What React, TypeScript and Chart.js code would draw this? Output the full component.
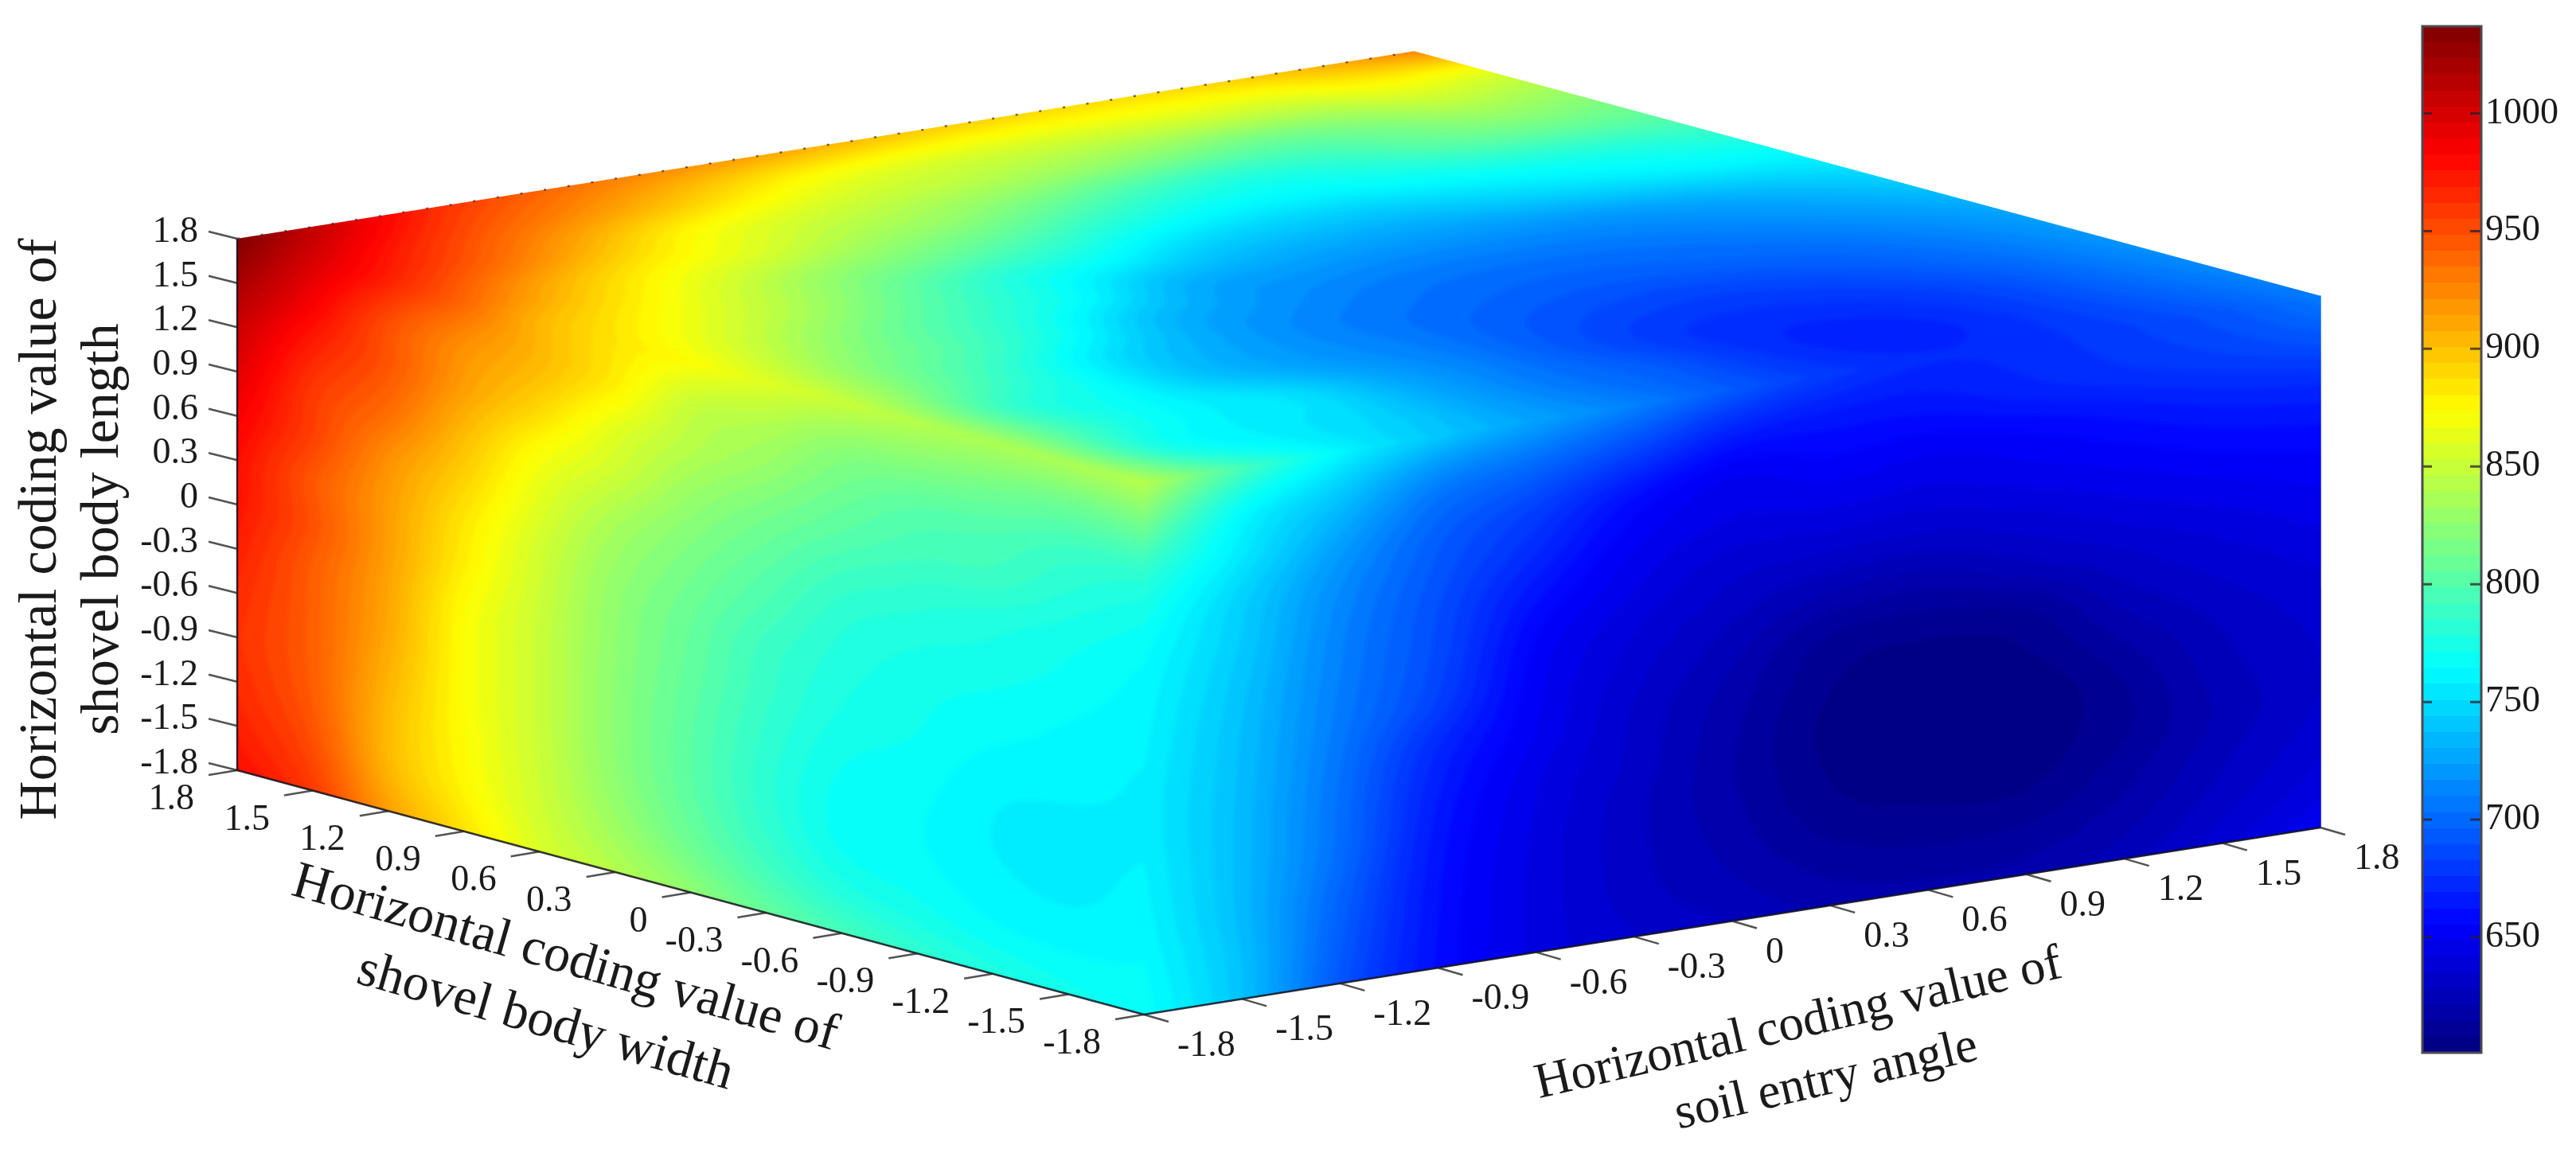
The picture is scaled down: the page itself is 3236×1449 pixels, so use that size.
import React, { useEffect, useRef } from "react";
import { Chart, registerables } from "chart.js";

Chart.register(...registerables);

// ---------- data ----------
const heightTicks = ["1.8", "1.5", "1.2", "0.9", "0.6", "0.3", "0", "-0.3", "-0.6", "-0.9", "-1.2", "-1.5", "-1.8"];
const widthTicks = ["1.8", "1.5", "1.2", "0.9", "0.6", "0.3", "0", "-0.3", "-0.6", "-0.9", "-1.2", "-1.5", "-1.8"];
const angleTicks = ["-1.8", "-1.5", "-1.2", "-0.9", "-0.6", "-0.3", "0", "0.3", "0.6", "0.9", "1.2", "1.5", "1.8"];

const colorbarRange = [601, 1037];
const colorbarTicks = [650, 700, 750, 800, 850, 900, 950, 1000];

// left face: rows = body length 1.8 .. -1.8, columns = body width 1.8 .. -1.8
const leftFaceValues = [
  [1037, 1000, 970, 940, 905, 885, 873, 860, 850, 842, 838, 838, 842],
  [1020, 985, 950, 922, 903, 880, 850, 840, 825, 820, 815, 810, 812],
  [1005, 970, 946, 915, 890, 862, 842, 828, 812, 802, 798, 790, 785],
  [995, 959, 936, 903, 872, 852, 830, 815, 802, 793, 790, 780, 772],
  [985, 955, 922, 893, 862, 838, 820, 805, 790, 783, 778, 772, 765],
  [978, 946, 916, 884, 855, 830, 813, 797, 782, 776, 773, 768, 762],
  [975, 948, 915, 880, 852, 826, 808, 790, 778, 772, 768, 764, 760],
  [970, 943, 912, 874, 850, 825, 806, 788, 775, 770, 764, 762, 758],
  [965, 942, 910, 873, 850, 824, 804, 785, 771, 767, 760, 758, 758],
  [962, 942, 906, 873, 850, 824, 803, 783, 768, 765, 759, 757, 760],
  [965, 944, 903, 874, 851, 826, 805, 785, 769, 766, 761, 759, 762],
  [970, 950, 905, 877, 853, 832, 812, 793, 778, 772, 766, 764, 765],
  [978, 958, 915, 886, 858, 842, 826, 808, 795, 785, 778, 772, 768],
];

// right face: rows = body length 1.8 .. -1.8, columns = soil entry angle -1.8 .. 1.8
const rightFaceValues = [
  [842, 795, 762, 741, 725, 711, 694, 680, 673, 675, 682, 692, 708],
  [812, 765, 740, 712, 700, 685, 668, 664, 664, 670, 676, 682, 690],
  [785, 755, 725, 698, 682, 662, 650, 654, 652, 656, 662, 668, 672],
  [772, 745, 716, 692, 672, 652, 644, 645, 643, 647, 652, 657, 660],
  [765, 742, 712, 688, 662, 646, 636, 634, 633, 637, 643, 648, 652],
  [762, 739, 710, 686, 655, 640, 630, 622, 620, 627, 634, 640, 646],
  [760, 737, 708, 682, 652, 636, 624, 611, 609, 612, 626, 634, 640],
  [758, 736, 705, 672, 650, 633, 620, 607, 603, 606, 618, 629, 636],
  [758, 735, 703, 667, 646, 632, 618, 605, 602, 602, 612, 626, 634],
  [760, 735, 702, 664, 644, 630, 618, 606, 603, 603, 611, 624, 634],
  [762, 735, 698, 662, 643, 630, 620, 609, 606, 606, 615, 627, 637],
  [765, 737, 695, 661, 643, 631, 623, 615, 612, 613, 620, 631, 642],
  [768, 738, 692, 660, 643, 634, 628, 621, 619, 620, 626, 637, 649],
];

// top face: rows = body width 1.8 .. -1.8, columns = soil entry angle -1.8 .. 1.8
const topFaceValues = [
  [1037, 1000, 965, 942, 926, 915, 905, 895, 890, 888, 892, 905, 925],
  [1000, 968, 938, 915, 893, 873, 862, 857, 855, 855, 855, 868, 862],
  [970, 940, 908, 878, 860, 848, 840, 830, 820, 812, 822, 838, 830],
  [940, 905, 877, 858, 838, 826, 808, 790, 780, 786, 803, 810, 808],
  [905, 880, 853, 828, 812, 795, 775, 762, 760, 766, 773, 778, 785],
  [885, 860, 835, 806, 780, 764, 745, 738, 737, 744, 752, 760, 763],
  [873, 840, 812, 788, 764, 733, 725, 720, 719, 720, 726, 736, 748],
  [860, 822, 798, 770, 736, 721, 711, 706, 705, 707, 713, 723, 735],
  [850, 808, 777, 745, 725, 711, 703, 697, 695, 698, 703, 713, 725],
  [842, 786, 766, 738, 722, 710, 696, 687, 683, 686, 695, 706, 720],
  [838, 785, 762, 752, 728, 710, 692, 678, 674, 677, 686, 701, 716],
  [838, 775, 758, 748, 727, 708, 695, 678, 669, 672, 683, 697, 712],
  [842, 795, 762, 741, 725, 711, 694, 680, 673, 675, 682, 692, 708],
];

const zTitle = ["Horizontal coding value of", "shovel body length"];
const widthTitle = ["Horizontal coding value of", "shovel body width"];
const angleTitle = ["Horizontal coding value of", "soil entry angle"];

// ---------- layout of the projected box ----------
const W = 3236;
const H = 1449;
const TL = [298, 300];
const FR = [1437, 607];
const RT = [2915, 372];
const BK = [TL[0] + RT[0] - FR[0], TL[1] + RT[1] - FR[1]];
const DEPTH = 668;
const N = 13;
const LEVELS = 64;
const SURFACE_LEVELS = 80;
const SERIF = '"Liberation Serif", "Times New Roman", serif';

function clamp01(a: number) {
  return a < 0 ? 0 : a > 1 ? 1 : a;
}
function clamp(a: number) {
  return a < 0 ? 0 : a > N - 1 ? N - 1 : a;
}
function jet(t: number): [number, number, number] {
  return [
    255 * clamp01(1.5 - Math.abs(4 * t - 3)),
    255 * clamp01(1.5 - Math.abs(4 * t - 2)),
    255 * clamp01(1.5 - Math.abs(4 * t - 1)),
  ];
}
function levelColor(v: number): [number, number, number] {
  const t = clamp01((v - colorbarRange[0]) / (colorbarRange[1] - colorbarRange[0]));
  const idx = Math.min(SURFACE_LEVELS - 1, Math.floor(t * SURFACE_LEVELS));
  return jet((idx + 0.5) / SURFACE_LEVELS);
}

function facePoints(values: number[][], o: number[], u: number[], v: number[]) {
  const pts: { x: number; y: number; v: number }[] = [];
  values.forEach((row, j) =>
    row.forEach((val, i) => {
      pts.push({
        x: o[0] + (u[0] * i) / (N - 1) + (v[0] * j) / (N - 1),
        y: o[1] + (u[1] * i) / (N - 1) + (v[1] * j) / (N - 1),
        v: val,
      });
    })
  );
  return pts;
}

function sampleFace(values: number[][], a: number, b: number) {
  const i = Math.min(N - 2, Math.max(0, Math.floor(a)));
  const j = Math.min(N - 2, Math.max(0, Math.floor(b)));
  const s = a - i;
  const t = b - j;
  const get = (jj: number, ii: number) => {
    let extra = 0;
    const rowIdx = Math.max(0, Math.min(N - 1, jj));
    if (ii < 0) {
      extra += values[rowIdx][0] - values[rowIdx][1];
      ii = 0;
    } else if (ii > N - 1) {
      extra += values[rowIdx][N - 1] - values[rowIdx][N - 2];
      ii = N - 1;
    }
    if (jj < 0) {
      extra += values[0][ii] - values[1][ii];
      jj = 0;
    } else if (jj > N - 1) {
      extra += values[N - 1][ii] - values[N - 2][ii];
      jj = N - 1;
    }
    return values[jj][ii] + extra;
  };
  const cr = (p0: number, p1: number, p2: number, p3: number, x: number) =>
    p1 + 0.5 * x * (p2 - p0 + x * (2 * p0 - 5 * p1 + 4 * p2 - p3 + x * (3 * (p1 - p2) + p3 - p0)));
  const col = [0, 1, 2, 3].map((k) =>
    cr(get(j - 1 + k, i - 1), get(j - 1 + k, i), get(j - 1 + k, i + 1), get(j - 1 + k, i + 2), s)
  );
  return cr(col[0], col[1], col[2], col[3], t);
}

const cubePlugin = {
  id: "cubeFaces",
  beforeDatasetsDraw(chart: any) {
    const ctx = chart.ctx as CanvasRenderingContext2D;
    chart.data.datasets.forEach((ds: any, f: number) => {
      const pts = chart.getDatasetMeta(f).data;
      const O = pts[0];
      const U = pts[N - 1];
      const V = pts[N * (N - 1)];
      const ux = (U.x - O.x) / (N - 1);
      const uy = (U.y - O.y) / (N - 1);
      const vx = (V.x - O.x) / (N - 1);
      const vy = (V.y - O.y) / (N - 1);
      const det = ux * vy - uy * vx;
      const cornersX = [O.x, U.x, V.x, U.x + V.x - O.x];
      const cornersY = [O.y, U.y, V.y, U.y + V.y - O.y];
      const x0 = Math.floor(Math.min(...cornersX)) - 10;
      const y0 = Math.floor(Math.min(...cornersY)) - 10;
      const w = Math.ceil(Math.max(...cornersX)) + 10 - x0;
      const h = Math.ceil(Math.max(...cornersY)) + 10 - y0;
      const off = document.createElement("canvas");
      off.width = w;
      off.height = h;
      const octx = off.getContext("2d") as CanvasRenderingContext2D;
      const img = octx.createImageData(w, h);
      const margin = 1.2;
      for (let py = 0; py < h; py++) {
        for (let px = 0; px < w; px++) {
          const dx = px + x0 + 0.5 - O.x;
          const dy = py + y0 + 0.5 - O.y;
          const a = (dx * vy - dy * vx) / det;
          const b = (dy * ux - dx * uy) / det;
          if (a < -margin || b < -margin || a > N - 1 + margin || b > N - 1 + margin) continue;
          const v = sampleFace(ds.grid, clamp(a), clamp(b));
          const c = levelColor(v);
          const k = (py * w + px) * 4;
          img.data[k] = c[0];
          img.data[k + 1] = c[1];
          img.data[k + 2] = c[2];
          img.data[k + 3] = 255;
        }
      }
      octx.putImageData(img, 0, 0);
      const cx = (cornersX[0] + cornersX[3]) / 2;
      const cy = (cornersY[0] + cornersY[3]) / 2;
      const grow = (x: number, y: number) => {
        const dx = x - cx;
        const dy = y - cy;
        const len = Math.hypot(dx, dy) || 1;
        return [x + (dx / len) * 0.8, y + (dy / len) * 0.8];
      };
      ctx.save();
      ctx.beginPath();
      const poly = [
        grow(O.x, O.y),
        grow(U.x, U.y),
        grow(U.x + V.x - O.x, U.y + V.y - O.y),
        grow(V.x, V.y),
      ];
      ctx.moveTo(poly[0][0], poly[0][1]);
      poly.slice(1).forEach((p) => ctx.lineTo(p[0], p[1]));
      ctx.closePath();
      ctx.clip();
      ctx.filter = "blur(3.5px)";
      ctx.drawImage(off, x0, y0);
      ctx.restore();
    });
  },
  afterDatasetsDraw(chart: any) {
    const ctx = chart.ctx as CanvasRenderingContext2D;
    const sx = (x: number) => chart.scales.x.getPixelForValue(x);
    const sy = (y: number) => chart.scales.y.getPixelForValue(y);
    const L = [TL[0], TL[1] + DEPTH];
    const Fb = [FR[0], FR[1] + DEPTH];
    const Rb = [RT[0], RT[1] + DEPTH];

    const line = (a: number[], b: number[]) => {
      ctx.beginPath();
      ctx.moveTo(sx(a[0]), sy(a[1]));
      ctx.lineTo(sx(b[0]), sy(b[1]));
      ctx.stroke();
    };

    // frame
    ctx.save();
    ctx.strokeStyle = "rgba(20,20,30,0.85)";
    ctx.lineWidth = 2.5;
    line(TL, L);
    line(L, Fb);
    line(Fb, Rb);
    ctx.setLineDash([3, 27]);
    ctx.strokeStyle = "rgba(50,50,50,0.7)";
    ctx.lineWidth = 2.5;
    line(TL, BK);
    ctx.restore();

    // ticks
    ctx.save();
    ctx.strokeStyle = "rgba(40,40,40,0.8)";
    ctx.lineWidth = 2.5;
    ctx.font = `46px ${SERIF}`;
    ctx.fillStyle = "#1a1a1a";
    ctx.textBaseline = "middle";
    heightTicks.forEach((label, k) => {
      const y = TL[1] + (DEPTH * k) / (N - 1);
      line([TL[0], y], [TL[0] - 36, y - 9]);
      ctx.textAlign = "right";
      ctx.fillText(label, sx(249), sy(y - 8));
    });
    widthTicks.forEach((label, k) => {
      const x = L[0] + ((Fb[0] - L[0]) * k) / (N - 1);
      const y = L[1] + ((Fb[1] - L[1]) * k) / (N - 1);
      line([x, y], [x - 36, y + 6]);
      ctx.textAlign = "right";
      ctx.fillText(label, sx(x - 54), sy(y + 37));
    });
    angleTicks.forEach((label, k) => {
      const x = Fb[0] + ((Rb[0] - Fb[0]) * k) / (N - 1);
      const y = Fb[1] + ((Rb[1] - Fb[1]) * k) / (N - 1);
      line([x, y], [x + 31, y + 9]);
      ctx.textAlign = "left";
      ctx.fillText(label, sx(x + 42), sy(y + 40));
    });
    ctx.restore();

    // titles
    const title = (text: string, x: number, y: number, angle: number, size: number) => {
      ctx.save();
      ctx.translate(sx(x), sy(y));
      ctx.rotate((angle * Math.PI) / 180);
      ctx.font = `${size}px ${SERIF}`;
      ctx.fillStyle = "#1a1a1a";
      ctx.textAlign = "center";
      ctx.textBaseline = "alphabetic";
      ctx.fillText(text, 0, 0);
      ctx.restore();
    };
    title(zTitle[0], 70, 665, -90, 68);
    title(zTitle[1], 148, 665, -90, 68);
    title(widthTitle[0], 705, 1222, 16, 66);
    title(widthTitle[1], 680, 1302, 16, 66);
    title(angleTitle[0], 2263, 1304, -13, 63);
    title(angleTitle[1], 2298, 1375, -13, 63);
  },
};

const colorbarPlugin = {
  id: "colorbarFrame",
  afterDatasetsDraw(chart: any) {
    const ctx = chart.ctx as CanvasRenderingContext2D;
    const { left, right, top, bottom } = chart.chartArea;
    const scale = chart.scales.y;
    ctx.save();
    ctx.strokeStyle = "rgba(40,30,40,0.75)";
    ctx.lineWidth = 3;
    colorbarTicks.forEach((v) => {
      const y = scale.getPixelForValue(v);
      ctx.beginPath();
      ctx.moveTo(left, y);
      ctx.lineTo(left + 12, y);
      ctx.moveTo(right, y);
      ctx.lineTo(right - 14, y);
      ctx.stroke();
    });
    ctx.strokeStyle = "#4a4a50";
    ctx.lineWidth = 3;
    ctx.strokeRect(left, top, right - left, bottom - top);
    ctx.restore();
  },
};

export default function App() {
  const mainRef = useRef<HTMLCanvasElement | null>(null);
  const barRef = useRef<HTMLCanvasElement | null>(null);

  useEffect(() => {
    const wVec = [FR[0] - TL[0], FR[1] - TL[1]];
    const aVec = [RT[0] - FR[0], RT[1] - FR[1]];
    const main = new Chart(mainRef.current as HTMLCanvasElement, {
      type: "scatter",
      data: {
        datasets: [
          {
            label: "top",
            grid: topFaceValues,
            data: facePoints(topFaceValues, TL, aVec, wVec),
            pointRadius: 0,
          },
          {
            label: "left",
            grid: leftFaceValues,
            data: facePoints(leftFaceValues, TL, wVec, [0, DEPTH]),
            pointRadius: 0,
          },
          {
            label: "right",
            grid: rightFaceValues,
            data: facePoints(rightFaceValues, FR, aVec, [0, DEPTH]),
            pointRadius: 0,
          },
        ] as any,
      },
      options: {
        animation: false,
        responsive: false,
        devicePixelRatio: 1,
        events: [],
        layout: { padding: 0 },
        plugins: { legend: { display: false }, tooltip: { enabled: false } },
        scales: {
          x: { type: "linear", min: 0, max: W, display: false },
          y: { type: "linear", min: 0, max: H, reverse: true, display: false },
        },
      },
      plugins: [cubePlugin],
    } as any);

    const bar = new Chart(barRef.current as HTMLCanvasElement, {
      type: "bar",
      data: {
        labels: ["level"],
        datasets: [
          {
            data: [colorbarRange],
            barPercentage: 1,
            categoryPercentage: 1,
            borderWidth: 0,
            backgroundColor: (c: any) => {
              const area = c.chart.chartArea;
              if (!area) return "#000";
              const g = c.chart.ctx.createLinearGradient(0, area.bottom, 0, area.top);
              for (let i = 0; i < LEVELS; i++) {
                const rgb = jet((i + 0.5) / LEVELS);
                const col = `rgb(${rgb[0]},${rgb[1]},${rgb[2]})`;
                g.addColorStop(i / LEVELS, col);
                g.addColorStop((i + 1) / LEVELS, col);
              }
              return g;
            },
          },
        ],
      },
      options: {
        animation: false,
        responsive: false,
        devicePixelRatio: 1,
        events: [],
        layout: { padding: { left: 43, top: 33, bottom: 126, right: 0 } },
        plugins: { legend: { display: false }, tooltip: { enabled: false } },
        scales: {
          x: { display: false },
          y: {
            position: "right",
            min: colorbarRange[0],
            max: colorbarRange[1],
            grid: { display: false, drawTicks: false },
            border: { display: false },
            afterBuildTicks: (s: any) => {
              s.ticks = colorbarTicks.map((v) => ({ value: v }));
            },
            afterFit: (s: any) => {
              s.width = 119;
            },
            ticks: {
              autoSkip: false,
              padding: 5,
              color: "#1a1a1a",
              font: { family: SERIF, size: 46 },
              callback: (v: any) => String(v),
            },
          },
        },
      },
      plugins: [colorbarPlugin],
    } as any);

    return () => {
      main.destroy();
      bar.destroy();
    };
  }, []);

  return (
    <div style={{ position: "absolute", left: 0, top: 0, width: W, height: H, background: "#fff", overflow: "hidden" }}>
      <canvas
        ref={mainRef}
        width={W}
        height={H}
        style={{ position: "absolute", left: 0, top: 0, width: W, height: H }}
      />
      <canvas
        ref={barRef}
        width={236}
        height={H}
        style={{ position: "absolute", left: 3000, top: 0, width: 236, height: H }}
      />
    </div>
  );
}
